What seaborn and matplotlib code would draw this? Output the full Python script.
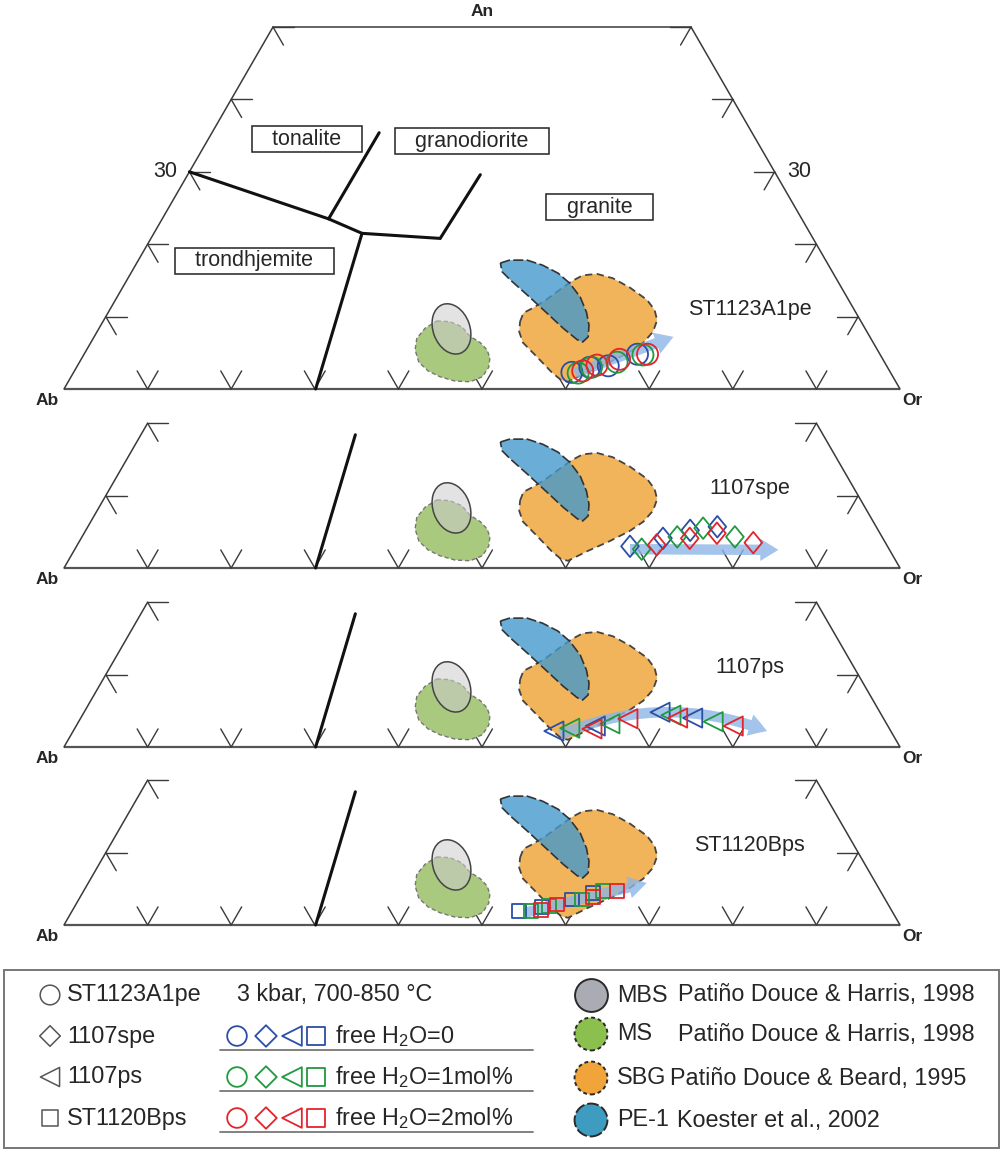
import numpy as np
import pandas as pd
import matplotlib
matplotlib.use("Agg")
import matplotlib.pyplot as plt
import seaborn as sns
from matplotlib.path import Path
from matplotlib.patches import Polygon, Ellipse, FancyArrowPatch, Rectangle

# ---------------- data (ternary, mol %: An, Or; Ab = 100 - An - Or) ----------------
h2o_levels = ["free H$_2$O=0", "free H$_2$O=1mol%", "free H$_2$O=2mol%"]
h2o_colors = ["#2b4ea6", "#1f9a3f", "#e3242b"]

samples = ["ST1123A1pe", "1107spe", "1107ps", "ST1120Bps"]
tall_diamond = Path([(0, 1), (0.82, 0), (0, -1), (-0.82, 0), (0, 1)], closed=True)
sample_markers = ["o", tall_diamond, "<", "s"]
sample_sizes = [230, 240, 190, 95]

# four melting steps per H2O level (rows: free H2O = 0, 1, 2 mol%)
st1123_an = [[2.3, 3.0, 3.2, 4.8], [2.2, 3.0, 3.7, 4.7], [2.5, 3.3, 4.1, 4.8]]
st1123_or = [[59.6, 61.4, 63.5, 66.2], [60.4, 61.6, 64.3, 66.9], [60.8, 62.1, 64.4, 67.4]]
s1107spe_an = [[3.0, 4.1, 5.2, 5.7], [2.6, 4.3, 5.5, 4.3], [3.2, 4.1, 4.8, 3.5]]
s1107spe_or = [[66.2, 69.6, 72.3, 75.3], [67.8, 71.2, 73.7, 78.1], [69.3, 72.8, 75.7, 80.7]]
s1107ps_an = [[2.2, 2.9, 4.8, 4.0], [2.6, 3.2, 4.4, 3.5], [2.5, 3.9, 4.0, 2.9]]
s1107ps_or = [[57.5, 62.1, 68.9, 73.2], [59.2, 63.7, 70.4, 75.9], [61.9, 65.5, 71.4, 78.6]]
st1120_an = [[1.9, 2.5, 3.5, 4.4], [1.9, 2.6, 3.5, 4.7], [2.1, 2.8, 3.9, 4.7]]
st1120_or = [[53.5, 55.9, 59.0, 61.1], [54.9, 56.7, 60.2, 62.1], [56.0, 57.6, 61.3, 63.8]]

sample_an = [st1123_an, s1107spe_an, s1107ps_an, st1120_an]
sample_or = [st1123_or, s1107spe_or, s1107ps_or, st1120_or]

# trend arrows (start An, Or -> end An, Or)
trend_start = [(2.2, 60.0), (2.6, 66.4), (1.7, 58.5), (1.7, 54.3)]
trend_end = [(7.2, 69.3), (2.5, 84.2), (2.2, 83.0), (5.8, 66.8)]
trend_bend = [0.0, 0.0, -0.2, 0.0]

# experimental melt fields
ms_an = [9.4, 9.3, 8.6, 7.3, 6.4, 5.4, 4.3, 3.0, 1.7, 1.0, 1.1, 1.7, 2.5, 3.7, 5.4, 7.0, 8.4]
ms_or = [39.9, 41.5, 43.3, 44.9, 46.6, 47.9, 48.8, 49.3, 49.2, 48.1, 46.2, 44.1, 42.3, 40.6, 39.3, 38.7, 39.0]
sbg_an = [9.3, 10.5, 11.2, 12.3, 13.5, 14.9, 15.7, 15.9, 15.3, 14.0, 12.3, 10.9, 9.5, 7.9, 6.4, 5.1,
          3.7, 2.3, 1.0, 1.2, 2.3, 4.4, 6.4, 7.9]
sbg_or = [49.9, 49.7, 50.5, 51.5, 52.3, 53.3, 54.2, 55.8, 58.0, 60.7, 63.6, 65.2, 66.2, 66.5, 66.1, 65.1,
          63.4, 61.4, 59.8, 58.9, 57.2, 54.4, 51.7, 50.5]
pe1_an = [17.4, 17.8, 17.8, 17.1, 16.0, 14.6, 12.7, 10.6, 8.8, 7.2, 6.5, 6.8, 8.4, 10.5, 13.0, 15.1, 16.2]
pe1_or = [43.5, 44.4, 46.5, 48.7, 51.1, 53.2, 55.4, 57.2, 58.4, 59.1, 58.8, 58.0, 55.5, 52.5, 48.9, 45.8, 44.3]
mbs_center = (8.3, 42.2)

# classification boundaries (Barker 1979)
bound_a_an = [30.0, 23.5, 21.5, 20.8, 29.6]
bound_a_or = [0.0, 19.9, 24.9, 34.6, 35.0]
bound_b_an = [23.5, 35.4]
bound_b_or = [19.9, 20.0]
bound_c_an = [21.5, 0.0]
bound_c_or = [24.9, 30.1]
bound_c_short_an = [18.4, 0.0]
bound_c_short_or = [25.65, 30.1]

field_names = ["tonalite", "granodiorite", "granite", "trondhjemite"]
field_an = [34.5, 34.25, 25.1, 17.7]
field_or = [11.8, 31.7, 51.5, 13.9]

grid_ticks = [10, 20, 30, 40, 50, 60, 70, 80, 90]

legend_refs = ["MBS", "MS", "SBG", "PE-1"]
legend_cites = ["Patiño Douce & Harris, 1998", "Patiño Douce & Harris, 1998",
                "Patiño Douce & Beard, 1995", "Koester et al., 2002"]
legend_fill = ["#a9adb3", "#8cc04e", "#f0a43a", "#3d9cbf"]
legend_ls = ["solid", (0, (2, 1.5)), (0, (2, 1.5)), (0, (6, 1.5))]

# ---------------- helpers ----------------
def tern(an, orr):
    an = np.asarray(an, float) / 100.0
    orr = np.asarray(orr, float) / 100.0
    return orr + an / 2.0, an * np.sqrt(3) / 2.0


sns.set_theme(style="white")
plt.rcParams["font.family"] = ["Liberation Sans", "DejaVu Sans"]
plt.rcParams["mathtext.fontset"] = "custom"
plt.rcParams["mathtext.rm"] = "Liberation Sans"
plt.rcParams["mathtext.default"] = "regular"

W, H = 1004, 1153
PX = 836.0   # pixels per unit of the Ab-Or edge
X0 = 64.0    # pixel column of the Ab apex
fig = plt.figure(figsize=(W / 100, H / 100), dpi=100)

frame_c = "#3a3a3a"
TL = 0.025   # tick length


def add_panel(base, top, bottom):
    ax = fig.add_axes([0, (H - bottom) / H, 1, (bottom - top) / H])
    ax.set_xlim(-X0 / PX, (W - X0) / PX)
    ax.set_ylim((base - bottom) / PX, (base - top) / PX)
    ax.axis("off")
    return ax


def draw_frame(ax, top_an):
    # edges
    x, y = tern([0, 0], [0, 100])
    ax.plot(x, y, color="#555555", lw=1.6, solid_capstyle="butt")
    x, y = tern([0, top_an], [0, 0])
    ax.plot(x, y, color=frame_c, lw=1.1)
    x, y = tern([0, top_an], [100, 100 - top_an])
    ax.plot(x, y, color=frame_c, lw=1.1)
    if top_an == 50:
        x, y = tern([50, 50], [0, 50])
        ax.plot(x, y, color=frame_c, lw=1.1)
    s3 = np.sqrt(3) / 2
    # base ticks (V)
    for t in grid_ticks:
        px, py = tern(0, t)
        for dx in (-0.5, 0.5):
            ax.plot([px, px + dx * TL], [py, py + s3 * TL], color=frame_c, lw=1.0)
    # side ticks
    for t in [v for v in grid_ticks if v <= top_an]:
        px, py = tern(t, 0)
        ax.plot([px, px + TL], [py, py], color=frame_c, lw=1.0)
        ax.plot([px, px + 0.5 * TL], [py, py - s3 * TL], color=frame_c, lw=1.0)
        px, py = tern(t, 100 - t)
        ax.plot([px, px - TL], [py, py], color=frame_c, lw=1.0)
        ax.plot([px, px - 0.5 * TL], [py, py - s3 * TL], color=frame_c, lw=1.0)
    # apex labels
    px, py = tern(0, 0)
    ax.annotate("Ab", (px, py), xytext=(-12, -8), textcoords="offset points",
                ha="center", va="center", fontsize=12.5, fontweight="bold")
    px, py = tern(0, 100)
    ax.annotate("Or", (px, py), xytext=(9, -8), textcoords="offset points",
                ha="center", va="center", fontsize=12.5, fontweight="bold")


def draw_fields(ax):
    x, y = tern(ms_an, ms_or)
    ax.add_patch(Polygon(np.column_stack([x, y]), closed=True, facecolor="#a9c97f",
                         edgecolor="#777777", lw=1.0, ls=(0, (3, 2)), zorder=2))
    cx, cy = tern(*mbs_center)
    ax.add_patch(Ellipse((float(cx), float(cy)), 0.062, 0.044, angle=110,
                         facecolor=(0.80, 0.80, 0.80, 0.55), edgecolor="#444444", lw=1.1, zorder=3))
    x, y = tern(sbg_an, sbg_or)
    ax.add_patch(Polygon(np.column_stack([x, y]), closed=True, facecolor="#f2b45a",
                         edgecolor="#444444", lw=1.3, ls=(0, (4, 2.5)), zorder=2))
    x, y = tern(pe1_an, pe1_or)
    ax.add_patch(Polygon(np.column_stack([x, y]), closed=True, facecolor=(0.27, 0.60, 0.80, 0.8),
                         edgecolor="#333333", lw=1.2, ls=(0, (6, 2)), zorder=3))


def draw_samples(ax, i):
    rows = []
    for k, lvl in enumerate(h2o_levels):
        for a, o in zip(sample_an[i][k], sample_or[i][k]):
            rows.append((a, o, lvl))
    df = pd.DataFrame(rows, columns=["An", "Or", "H2O"])
    df["x"], df["y"] = tern(df["An"], df["Or"])
    sa, so = trend_start[i]
    ea, eo = trend_end[i]
    p0 = tuple(float(v) for v in tern(sa, so))
    p1 = tuple(float(v) for v in tern(ea, eo))
    ax.add_patch(FancyArrowPatch(p0, p1, connectionstyle=f"arc3,rad={trend_bend[i]}",
                                 arrowstyle="simple,head_length=13,head_width=16,tail_width=7.5",
                                 mutation_scale=1, shrinkA=0, shrinkB=0,
                                 color="#8db6e6", alpha=0.8, lw=0, zorder=4))
    sns.scatterplot(data=df, x="x", y="y", hue="H2O", palette=h2o_colors, marker=sample_markers[i],
                    s=sample_sizes[i], linewidth=1.3, legend=False, ax=ax, zorder=5)
    coll = ax.collections[-1]
    coll.set_edgecolors(coll.get_facecolors())
    coll.set_facecolors("none")
    px, py = tern(11.0, 76.5)
    ax.text(px, py, samples[i], ha="center", va="center", fontsize=15.5)


# ---------------- panels ----------------
bases = [389, 568, 747, 925]
tops = [0, 405, 585, 764]
bottoms = [405, 585, 764, 955]

for i in range(4):
    ax = add_panel(bases[i], tops[i], bottoms[i])
    top_an = 50 if i == 0 else 20
    draw_frame(ax, top_an)
    draw_fields(ax)
    if i == 0:
        for an_l, or_l in [(bound_a_an, bound_a_or), (bound_b_an, bound_b_or), (bound_c_an, bound_c_or)]:
            x, y = tern(an_l, or_l)
            ax.plot(x, y, color="#111111", lw=2.2, solid_joinstyle="miter")
        for name, a, o in zip(field_names, field_an, field_or):
            px, py = tern(a, o)
            ax.text(px, py, "   " + name + "   ", ha="center", va="center", fontsize=15.5,
                    bbox=dict(boxstyle="square,pad=0.12", facecolor="white", edgecolor="#222222", lw=1.1))
        px, py = tern(50, 25)
        ax.annotate("An", (px, py), xytext=(0, 11), textcoords="offset points",
                    ha="center", va="center", fontsize=12.5, fontweight="bold")
        px, py = tern(30, 0)
        ax.annotate("30", (px, py), xytext=(-9, 0), textcoords="offset points",
                    ha="right", va="center", fontsize=15.5)
        px, py = tern(30, 70)
        ax.annotate("30", (px, py), xytext=(9, 0), textcoords="offset points",
                    ha="left", va="center", fontsize=15.5)
    else:
        x, y = tern(bound_c_short_an, bound_c_short_or)
        ax.plot(x, y, color="#111111", lw=2.2)
    draw_samples(ax, i)

# ---------------- legend ----------------
lg = fig.add_axes([0, 0, 1, 193 / H])
lg.set_xlim(0, W)
lg.set_ylim(H, 960)
lg.axis("off")
lg.add_patch(Rectangle((4, 970), 995, 178, facecolor="none", edgecolor="#777777", lw=1.4))

legend_markers = ["o", "D", "<", "s"]
row_y = [995, 1036, 1077, 1118]
gray_sizes = [200, 110, 190, 140]
for k in range(4):
    lg.scatter(50, row_y[k], marker=legend_markers[k], s=gray_sizes[k], facecolors="none",
               edgecolors="#555555", linewidths=1.1)
    lg.text(67, row_y[k], samples[k], ha="left", va="center", fontsize=16.8)

lg.text(237, row_y[0], "3 kbar, 700-850 °C", ha="left", va="center", fontsize=16.8)
col_x = [237, 266, 292, 316]
col_sizes = [200, 120, 200, 165]
for k, (lvl, c) in enumerate(zip(h2o_levels, h2o_colors)):
    y = row_y[k + 1]
    for m, xx, ss in zip(legend_markers, col_x, col_sizes):
        lg.scatter(xx, y, marker=m, s=ss, facecolors="none", edgecolors=c, linewidths=1.3)
    lg.text(335, y, lvl, ha="left", va="center", fontsize=16.8)
    lg.plot([220, 533], [y + 14, y + 14], color="#777777", lw=1.3)

ref_y = [995, 1034, 1078, 1120]
for k in range(4):
    lg.scatter(591, ref_y[k], s=560, facecolors=legend_fill[k], edgecolors="#2a2a2a",
               linewidths=1.4, linestyles=legend_ls[k])
    lg.text(617, ref_y[k], legend_refs[k], ha="left", va="center", fontsize=16.8)
cite_x = [678, 678, 670, 677]
for k in range(4):
    lg.text(cite_x[k], ref_y[k], legend_cites[k], ha="left", va="center", fontsize=16.8)

fig.savefig("out.png", dpi=100)
